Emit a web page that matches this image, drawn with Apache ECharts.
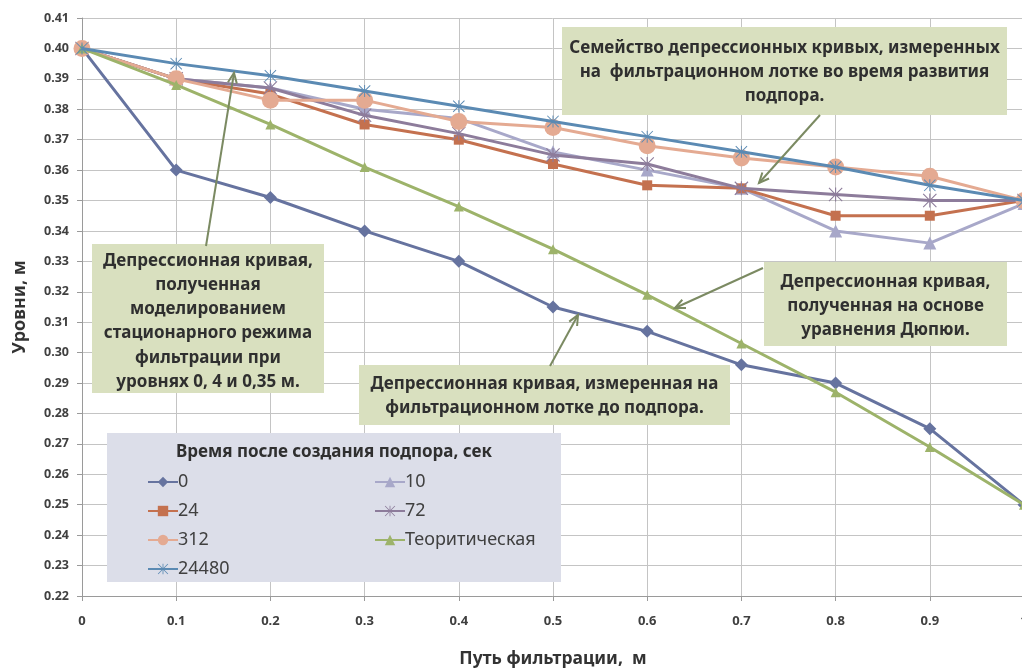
<!DOCTYPE html>
<html><head><meta charset="utf-8">
<script src="https://cdn.jsdelivr.net/npm/echarts@6/dist/echarts.min.js"></script>
<style>html,body{margin:0;padding:0;background:#fff}#c{width:1022px;height:670px}</style>
</head><body><div id="c"></div>
<script>
const xValues = [0, 0.1, 0.2, 0.3, 0.4, 0.5, 0.6, 0.7, 0.8, 0.9, 1.0];
const s0     = [0.400, 0.360, 0.351, 0.340, 0.330, 0.315, 0.307, 0.296, 0.290, 0.275, 0.250];
const s10    = [0.400, 0.390, 0.387, 0.380, 0.377, 0.366, 0.360, 0.354, 0.340, 0.336, 0.349];
const s24    = [0.400, 0.390, 0.385, 0.375, 0.370, 0.362, 0.355, 0.354, 0.345, 0.345, 0.350];
const s72    = [0.400, 0.390, 0.387, 0.378, 0.372, 0.365, 0.362, 0.354, 0.352, 0.350, 0.350];
const s312   = [0.400, 0.390, 0.383, 0.383, 0.376, 0.374, 0.368, 0.364, 0.361, 0.358, 0.350];
const sTheor = [0.400, 0.388, 0.375, 0.361, 0.348, 0.334, 0.319, 0.303, 0.287, 0.269, 0.250];
const s24480 = [0.400, 0.395, 0.391, 0.386, 0.381, 0.376, 0.371, 0.366, 0.361, 0.355, 0.350];
const seriesNames = ['0', '10', '24', '72', '312', 'Теоритическая', '24480'];
const legendTitle = 'Время после создания подпора, сек';
const xTitle = 'Путь фильтрации,  м';
const yTitle = 'Уровни, м';
const notes = [
  'Семейство депрессионных кривых, измеренных\nна  фильтрационном лотке во время развития\nподпора.',
  'Депрессионная кривая,\nполученная\nмоделированием\nстационарного режима\nфильтрации при\nуровнях 0, 4 и 0,35 м.',
  'Депрессионная кривая,\nполученная на основе\nуравнения Дюпюи.',
  'Депрессионная кривая, измеренная на\nфильтрационном лотке до подпора.'
];

const FONT = '"Noto Sans", sans-serif';
const star = 'path://M9.2,0 L10.8,0 L10.8,20 L9.2,20 Z M0,1.1 L1.1,0 L20,18.9 L18.9,20 Z M18.9,0 L20,1.1 L1.1,20 L0,18.9 Z';
const styles = [
  {c:'#66739f', sym:'diamond', size:13},
  {c:'#a8a8c9', sym:'triangle', size:13},
  {c:'#c4714f', sym:'rect', size:10},
  {c:'#8d7c9b', sym:star, size:14},
  {c:'#e4aa92', sym:'circle', size:17},
  {c:'#9db36a', sym:'triangle', size:10},
  {c:'#5b8ab3', sym:star, size:12}
];
const allData = [s0, s10, s24, s72, s312, sTheor, s24480];

const series = allData.map((arr, i) => ({
  name: seriesNames[i], type: 'line',
  data: arr.map((v, k) => [xValues[k], v]),
  symbol: styles[i].sym, symbolSize: styles[i].size, showAllSymbol: true,
  lineStyle: {color: styles[i].c, width: 3},
  itemStyle: {color: styles[i].c},
  emphasis: {disabled: true}, animation: false, z: 2 + i
}));

function arrow(x1, y1, x2, y2) {
  const a = Math.atan2(y2 - y1, x2 - x1), L = 11, w = 0.42;
  const p1 = [x2 - L * Math.cos(a - w), y2 - L * Math.sin(a - w)];
  const p2 = [x2 - L * Math.cos(a + w), y2 - L * Math.sin(a + w)];
  return [
    {type:'line', shape:{x1, y1, x2, y2}, style:{stroke:'#7b8a62', lineWidth:2}, z:100},
    {type:'polyline', shape:{points:[p1, [x2, y2], p2]}, style:{stroke:'#7b8a62', lineWidth:2, fill:null}, z:100}
  ];
}
function box(x, y, w, h, text, dy) {
  return [
    {type:'rect', shape:{x, y, width:w, height:h}, style:{fill:'#d9e0bf'}, z:90},
    {type:'text', x: x + w / 2, y: y + h / 2 + dy, style:{text, fill:'#2f2f2f', font:'bold 17px ' + FONT, align:'center', verticalAlign:'middle', lineHeight:24.3}, z:91}
  ];
}
const graphics = [].concat(
  box(562, 27, 445, 88, notes[0], 1),
  box(92, 244, 232, 149, notes[1], 3),
  box(764, 262, 243, 84, notes[2], 2),
  box(359, 365, 371, 60, notes[3], 1),
  arrow(206, 246, 234, 73),
  arrow(820, 115, 759, 183),
  arrow(763, 268, 675, 308),
  arrow(550, 366, 578, 315),
  [{type:'rect', shape:{x:107, y:433, width:454, height:149}, style:{fill:'#dcdee9'}, z:90},
   {type:'text', x:176, y:452, style:{text:legendTitle, fill:'#2f2f2f', font:'bold 17px ' + FONT, verticalAlign:'middle'}, z:91}]
);

const legendCommon = {orient:'vertical', itemWidth:30, itemHeight:13, itemGap:11, z:95, top:468,
  textStyle:{fontFamily:FONT, fontSize:18, lineHeight:18, color:'#404040', padding:[0,0,0,-5]}, selectedMode:false};

const chart = echarts.init(document.getElementById('c'), null, {renderer:'canvas'});
chart.setOption({
  backgroundColor:'#ffffff',
  animation:false,
  grid:{left:82, right:-2, top:18, bottom:74, containLabel:false, outerBoundsMode:'none'},
  xAxis:{type:'value', min:0, max:1, interval:0.1,
    name:xTitle, nameLocation:'middle', nameGap:54,
    nameTextStyle:{fontFamily:FONT, fontSize:17.5, fontWeight:'bold', color:'#333'},
    axisLine:{lineStyle:{color:'#9a9a9a', width:1}},
    axisTick:{show:true, length:5, lineStyle:{color:'#9a9a9a'}},
    axisLabel:{margin:19, fontFamily:FONT, fontSize:13, fontWeight:'bold', color:'#404040',
      formatter:v => String(Math.round(v * 10) / 10)},
    splitLine:{show:true, lineStyle:{color:'#c4c4c4', width:1}}},
  yAxis:{type:'value', min:0.22, max:0.41, interval:0.01,
    name:yTitle, nameLocation:'middle', nameGap:53, nameRotate:90,
    nameTextStyle:{fontFamily:FONT, fontSize:18, fontWeight:'bold', color:'#333'},
    axisLine:{show:true, lineStyle:{color:'#9a9a9a', width:1}},
    axisTick:{show:true, length:5, lineStyle:{color:'#9a9a9a'}},
    axisLabel:{margin:13, fontFamily:FONT, fontSize:12.5, fontWeight:'bold', color:'#404040',
      formatter:v => v.toFixed(2)},
    splitLine:{show:true, lineStyle:{color:'#c4c4c4', width:1}}},
  legend:[
    Object.assign({}, legendCommon, {left:142, data:['0','24','312','24480']}),
    Object.assign({}, legendCommon, {left:369, data:['10','72','Теоритическая']})
  ],
  graphic:graphics,
  series
});
</script></body></html>
